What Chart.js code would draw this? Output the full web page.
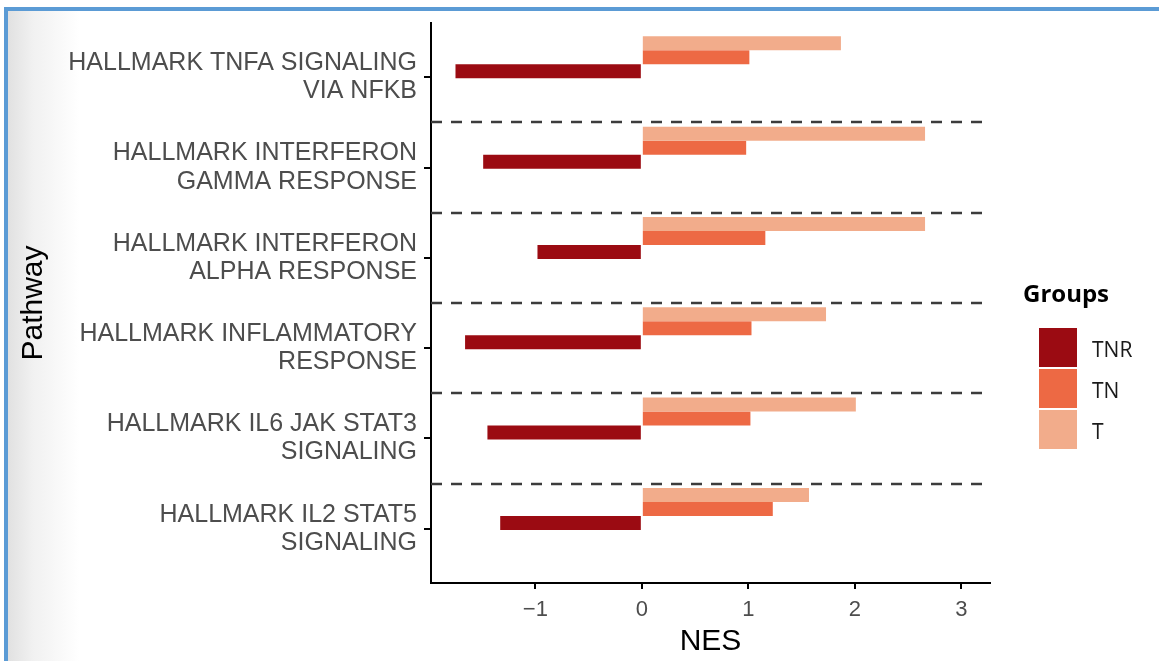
<!DOCTYPE html>
<html>
<head>
<meta charset="utf-8">
<title>NES by pathway</title>
<script src="https://cdn.jsdelivr.net/npm/chart.js@4/dist/chart.umd.min.js"></script>
<style>
  html, body { margin: 0; padding: 0; width: 1159px; height: 661px; overflow: hidden; background: #ffffff; }
  #frame {
    position: absolute; left: 4px; top: 7px; right: -20px; bottom: -20px;
    border-top: 4px solid #5b9bd5; border-left: 4px solid #5b9bd5;
    background: linear-gradient(to right, #e1e1e1 0px, #f1f1f1 25px, #ffffff 72px);
  }
  #chart { position: absolute; left: 0; top: 0; }
  #legend-title {
    position: absolute; left: 1023px; top: 281px;
    font: bold 24px "Open Sans", sans-serif; line-height: 24px; color: #000;
  }
  #legend { position: absolute; left: 1039px; top: 328px; }
  .legend-row { display: flex; align-items: center; height: 39px; margin-bottom: 2px; }
  .legend-box { width: 38px; height: 39px; }
  .legend-label { margin-left: 15px; margin-top: 3px; font: 21px "Open Sans", sans-serif; line-height: 21px; color: #1a1a1a; }
</style>
</head>
<body>
<div id="frame"></div>
<canvas id="chart" width="1159" height="661"></canvas>
<div id="legend-title">Groups</div>
<div id="legend"></div>
<script>
// Pathways (top to bottom), each split over two lines
const pathways = [
  ['HALLMARK TNFA SIGNALING', 'VIA NFKB'],
  ['HALLMARK INTERFERON', 'GAMMA RESPONSE'],
  ['HALLMARK INTERFERON', 'ALPHA RESPONSE'],
  ['HALLMARK INFLAMMATORY', 'RESPONSE'],
  ['HALLMARK IL6 JAK STAT3', 'SIGNALING'],
  ['HALLMARK IL2 STAT5', 'SIGNALING']
];

// Normalized enrichment scores per group
const nesT   = [1.87, 2.66, 2.66, 1.73, 2.01, 1.57];
const nesTN  = [1.01, 0.98, 1.16, 1.03, 1.02, 1.23];
const nesTNR = [-1.75, -1.49, -0.98, -1.66, -1.45, -1.33];

const groupNames  = ['T', 'TN', 'TNR'];
const groupColors = ['#f2ac8b', '#ed6944', '#9b0b12'];
const nesTicks = [-1, 0, 1, 2, 3];

Chart.defaults.font.family = '"Liberation Sans", Arial, sans-serif';

const toPoints = (values) => values.map((v, i) => ({ x: v, y: i + 1 }));
const seriesValues = [nesT, nesTN, nesTNR];

const datasets = groupNames.map((name, k) => ({
  label: name,
  data: toPoints(seriesValues[k]),
  backgroundColor: groupColors[k],
  borderWidth: 0,
  yAxisID: 'yBars',
  categoryPercentage: 0.465,
  barPercentage: 1.0
}));

const categoryTicks = (scale) => {
  scale.ticks = pathways.map((_, i) => ({ value: i + 1 }));
};

// Dashed separators between pathway groups
const separators = {
  id: 'groupSeparators',
  beforeDatasetsDraw(chart) {
    const { ctx, chartArea, scales } = chart;
    ctx.save();
    ctx.strokeStyle = '#3c3c3c';
    ctx.lineWidth = 2.5;
    ctx.setLineDash([11, 9]);
    for (let i = 1; i < pathways.length; i++) {
      const y = Math.round(scales.y.getPixelForValue(i + 0.5));
      ctx.beginPath();
      ctx.moveTo(chartArea.left, y);
      ctx.lineTo(chartArea.right, y);
      ctx.stroke();
    }
    ctx.restore();
  }
};

const chart = new Chart(document.getElementById('chart'), {
  type: 'bar',
  data: { datasets },
  plugins: [separators],
  options: {
    indexAxis: 'y',
    responsive: false,
    animation: false,
    layout: { padding: { top: 23, right: 169, bottom: 0, left: 0 } },
    plugins: { legend: { display: false }, tooltip: { enabled: false } },
    scales: {
      x: {
        type: 'linear',
        min: -1.98,
        max: 3.27,
        offset: false,
        afterBuildTicks: (scale) => { scale.ticks = nesTicks.map(v => ({ value: v })); },
        afterFit: (scale) => { scale.height = 78; scale.paddingLeft = 0; scale.paddingRight = 0; },
        ticks: {
          padding: 8,
          color: '#4d4d4d',
          font: { size: 22, lineHeight: 1.2 },
          callback: (v) => (v < 0 ? '\u2212' + Math.abs(v) : String(v))
        },
        grid: { offset: false, drawOnChartArea: false, drawTicks: true, tickLength: 6, tickColor: '#000', tickWidth: 2, lineWidth: 2 },
        border: { display: true, color: '#000', width: 2 },
        title: { display: true, text: 'NES', color: '#000', font: { size: 30, lineHeight: 1.2 }, padding: { top: 0, bottom: 1 } }
      },
      y: {
        type: 'linear',
        position: 'left',
        reverse: true,
        offset: false,
        min: 0.4,
        max: 6.6,
        afterBuildTicks: categoryTicks,
        afterFit: (scale) => { scale.width = 431; scale.paddingTop = 0; scale.paddingBottom = 0; },
        ticks: {
          padding: 7,
          color: '#4d4d4d',
          font: { size: 25, lineHeight: 1.13 },
          callback: (v) => pathways[v - 1]
        },
        grid: { offset: false, drawOnChartArea: false, drawTicks: true, tickLength: 7, tickColor: '#000', tickWidth: 2, lineWidth: 2 },
        border: { display: true, color: '#000', width: 2 },
        title: { display: true, text: 'Pathway', color: '#000', font: { size: 30, lineHeight: 1.2 }, padding: { top: 16, bottom: 0 } }
      },
      yBars: {
        type: 'linear',
        position: 'left',
        display: false,
        reverse: true,
        offset: false,
        grid: { offset: false },
        min: 0.62,
        max: 6.82,
        afterBuildTicks: categoryTicks
      }
    }
  }
});

// Legend listing the groups from darkest to lightest
const legendEl = document.getElementById('legend');
chart.data.datasets.slice().reverse().forEach((ds) => {
  const row = document.createElement('div');
  row.className = 'legend-row';
  const box = document.createElement('div');
  box.className = 'legend-box';
  box.style.background = ds.backgroundColor;
  const label = document.createElement('span');
  label.className = 'legend-label';
  label.textContent = ds.label;
  row.appendChild(box);
  row.appendChild(label);
  legendEl.appendChild(row);
});
</script>
</body>
</html>
